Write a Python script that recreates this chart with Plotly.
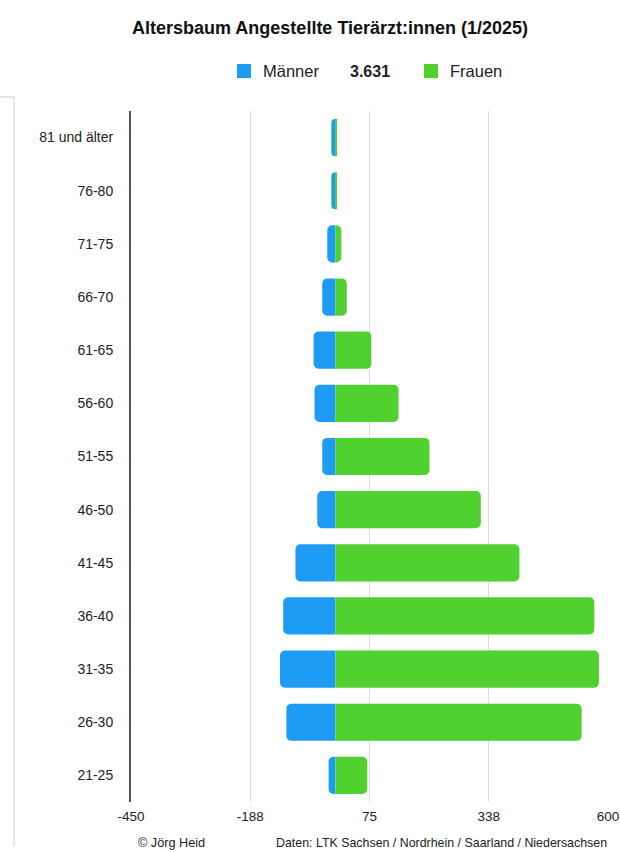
import plotly.graph_objects as go

# ---- data ----
age_groups = ["81 und älter", "76-80", "71-75", "66-70", "61-65", "56-60", "51-55",
              "46-50", "41-45", "36-40", "31-35", "26-30", "21-25"]
maenner = [9, 9, 18, 29, 48, 46, 29, 40, 88, 115, 122, 108, 15]
frauen = [2, 3, 13, 25, 79, 139, 207, 320, 405, 570, 580, 542, 70]
total_label = "3.631"
tick_vals = [-450, -187.5, 75, 337.5, 600]
tick_text = ["-450", "-188", "75", "338", "600"]

BLUE = "#1E9BF2"
GREEN = "#50D12F"
FONT = "Liberation Sans, Arial, Helvetica, sans-serif"

W, H = 620, 852
L, R, T, B = 131, 12, 111, 50
PW, PH = W - L - R, H - T - B


def px(x):
    return (x - L) / PW


def py(y):
    return (H - B - y) / PH


fig = go.Figure()
fig.add_trace(go.Bar(y=age_groups, x=[-v for v in maenner], orientation="h",
                     name="Männer", marker=dict(color=BLUE, line=dict(width=0)),
                     width=0.7, showlegend=False))
fig.add_trace(go.Bar(y=age_groups, x=frauen, orientation="h",
                     name="Frauen", marker=dict(color=GREEN, line=dict(width=0)),
                     width=0.7, showlegend=False))

shapes = [
    # legend squares
    dict(type="rect", xref="paper", yref="paper", x0=px(237), x1=px(251),
         y0=py(78), y1=py(64), fillcolor=BLUE, line=dict(width=0)),
    dict(type="rect", xref="paper", yref="paper", x0=px(424), x1=px(438),
         y0=py(78), y1=py(64), fillcolor=GREEN, line=dict(width=0)),
    # left frame line
    dict(type="line", xref="paper", yref="paper", x0=px(0), x1=px(14),
         y0=py(97), y1=py(97), line=dict(color="#d0d0d0", width=1)),
    dict(type="line", xref="paper", yref="paper", x0=px(14), x1=px(14),
         y0=py(97), y1=py(846), line=dict(color="#d0d0d0", width=1)),
]

annotations = [
    dict(text="<b>Altersbaum Angestellte Tierärzt:innen (1/2025)</b>",
         xref="paper", yref="paper", x=px(330), y=py(28), showarrow=False,
         xanchor="center", yanchor="middle", font=dict(size=18, color="#111", family=FONT)),
    dict(text="Männer", xref="paper", yref="paper", x=px(261), y=py(71), showarrow=False,
         xanchor="left", yanchor="middle", font=dict(size=16.5, color="#222", family=FONT)),
    dict(text="<b>" + total_label + "</b>", xref="paper", yref="paper", x=px(348), y=py(71),
         showarrow=False, xanchor="left", yanchor="middle",
         font=dict(size=16, color="#222", family=FONT)),
    dict(text="Frauen", xref="paper", yref="paper", x=px(448), y=py(71), showarrow=False,
         xanchor="left", yanchor="middle", font=dict(size=16.5, color="#222", family=FONT)),
    dict(text="© Jörg Heid", xref="paper", yref="paper", x=px(136), y=py(843), showarrow=False,
         xanchor="left", yanchor="middle", font=dict(size=12.7, color="#222", family=FONT)),
    dict(text="Daten: LTK Sachsen / Nordrhein / Saarland / Niedersachsen", xref="paper",
         yref="paper", x=px(609), y=py(843), showarrow=False, xanchor="right",
         yanchor="middle", font=dict(size=12.4, color="#222", family=FONT)),
]

fig.update_layout(
    width=W, height=H,
    margin=dict(l=L, r=R, t=T, b=B, pad=0, autoexpand=False),
    paper_bgcolor="white", plot_bgcolor="white",
    barmode="relative", barcornerradius=5,
    font=dict(family=FONT, color="#222"),
    shapes=shapes, annotations=annotations,
    xaxis=dict(range=[-450, 600], tickvals=tick_vals, ticktext=tick_text,
               showgrid=True, gridcolor="#dcdcdc", gridwidth=1, zeroline=False,
               showline=False, tickfont=dict(size=13.5, color="#222"),
               ticks="", ticklabelstandoff=4, fixedrange=True, automargin=False,
               ticklabeloverflow="allow"),
    yaxis=dict(type="category", categoryorder="array", categoryarray=age_groups,
               range=[12.5, -0.5], showgrid=False, zeroline=False,
               showline=True, linecolor="#555", linewidth=2,
               tickfont=dict(size=14, color="#222"), ticks="",
               ticklabelstandoff=13, automargin=False),
)

fig.write_html(
    "out.html",
    config={"displayModeBar": False},
    post_script="document.body.style.margin='0';document.body.style.overflow='hidden';",
)
